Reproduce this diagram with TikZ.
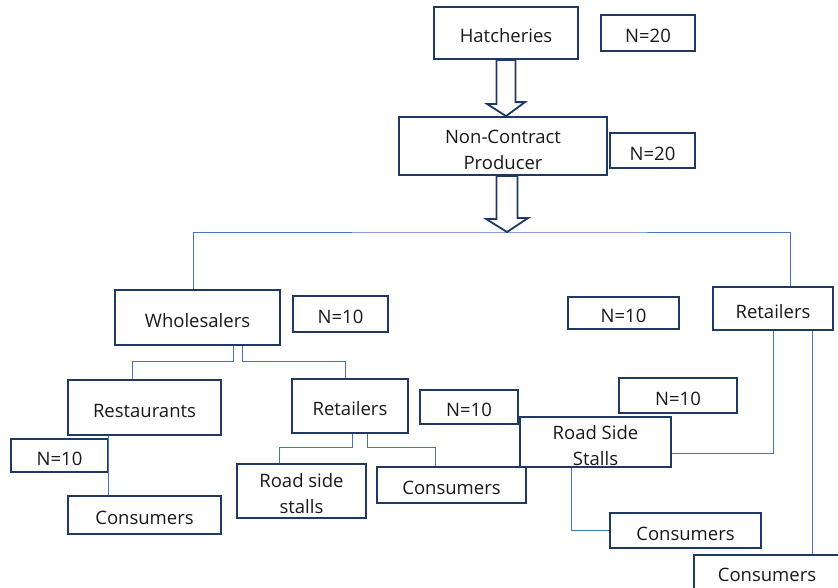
\documentclass[tikz,border=0pt]{standalone}
\usepackage{fontspec}
\setmainfont{Open Sans}
\usetikzlibrary{calc,positioning}
\definecolor{BoxNavy}{HTML}{203864}
\definecolor{LinkBlue}{HTML}{4472C4}

\begin{document}
\begin{tikzpicture}[x=1pt,y=-1pt,font=\fontsize{18.5}{26}\selectfont,
 unit/.style={draw=BoxNavy,line width=1.8pt,fill=white,text=black!90,align=center,inner sep=0pt,
   execute at begin node=\rule{0pt}{19.5pt}},
 link/.style={draw=LinkBlue,line width=0.9pt},
 bigarrow/.style={draw=BoxNavy,line width=1.8pt,fill=white,line join=miter}]
\useasboundingbox (0,0) rectangle (838,587);
\node[unit,minimum width=144,minimum height=52] (hatch) at (506,33) {Hatcheries};
\node[unit,minimum width=94,minimum height=36] (nHatch) at (648,33) {N=20};
\node[unit,minimum width=208,minimum height=58] (ncp) at (503,146) {\rule{0pt}{21pt}Non-Contract\\Producer};
\node[unit,minimum width=85,minimum height=35] (nNcp) at (652.5,150.5) {N=20};
\coordinate (split) at (507,232);
\node[unit,minimum width=165,minimum height=55] (whole) at (197.5,317.5) {Wholesalers};
\node[unit,minimum width=95,minimum height=36] (nWhole) at (340.5,314) {N=10};
\node[unit,minimum width=111,minimum height=32] (nMid) at (623.5,313) {N=10};
\node[unit,minimum width=120,minimum height=43] (retR) at (773,308.5) {Retailers};
\node[unit,minimum width=153,minimum height=55] (rest) at (144.5,407.5) {Restaurants};
\node[unit,minimum width=97,minimum height=33] (nRest) at (59.5,455.5) {N=10};
\node[unit,minimum width=153,minimum height=38] (consL) at (144.5,515) {Consumers};
\node[unit,minimum width=116,minimum height=54] (retM) at (350,406) {Retailers};
\node[unit,minimum width=98,minimum height=34] (nRetM) at (469,407) {N=10};
\node[unit,minimum width=129,minimum height=54] (rsl) at (301.5,491) {\rule{0pt}{20pt}Road side\\stalls};
\node[unit,minimum width=149,minimum height=36] (consM) at (451.5,485) {Consumers};
\node[unit,minimum width=118,minimum height=35] (nRss) at (678,395.5) {N=10};
\node[unit,minimum width=151,minimum height=50] (rss) at (595.5,442) {\rule{0pt}{22pt}Road Side\\Stalls};
\node[unit,minimum width=151,minimum height=35] (consRS) at (685.5,530.5) {Consumers};
\node[unit,minimum width=146,minimum height=34] (consRR) at (767,572) {Consumers};
\draw[link] ([xshift=-4.5]whole.north) |- (split) -| ([xshift=17]retR.north);
\draw[link] ([xshift=35.5]whole.south) -- ++(0,16) -| ([xshift=-12.5]rest.north);
\draw[link] ([xshift=44.5]whole.south) -- ++(0,16) -| ([xshift=-5]retM.north);
\draw[link] ([xshift=-36.5]rest.south) -- ([xshift=-36.5]rest.south |- consL.north);
\draw[link] ([xshift=2]retM.south) -- ++(0,14) -| ([xshift=-22.5]rsl.north);
\draw[link] ([xshift=17]retM.south) -- ++(0,14) -| ([xshift=-16.5]consM.north);
\draw[link] (retR.south) |- ([yshift=-11]rss.east);
\draw[link] ([xshift=39]retR.south) -- ([xshift=39]retR.south |- consRR.north);
\draw[link] ([xshift=-24.5]rss.south) |- (consRS.west);
\draw[bigarrow] ([xshift=-9.5]hatch.south) -- ++(0,44) -- ++(-9.5,0) -- (hatch.south |- ncp.north) -- ++(19,-14) -- ++(-9.5,0) -- ([xshift=9.5]hatch.south) -- cycle;
\draw[bigarrow] ([xshift=-10.5]split |- ncp.south) -- ++(0,43) -- ++(-10.5,0) -- (split) -- ++(21,-14) -- ++(-10.5,0) -- ([xshift=10.5]split |- ncp.south) -- cycle;
\end{tikzpicture}
\end{document}
